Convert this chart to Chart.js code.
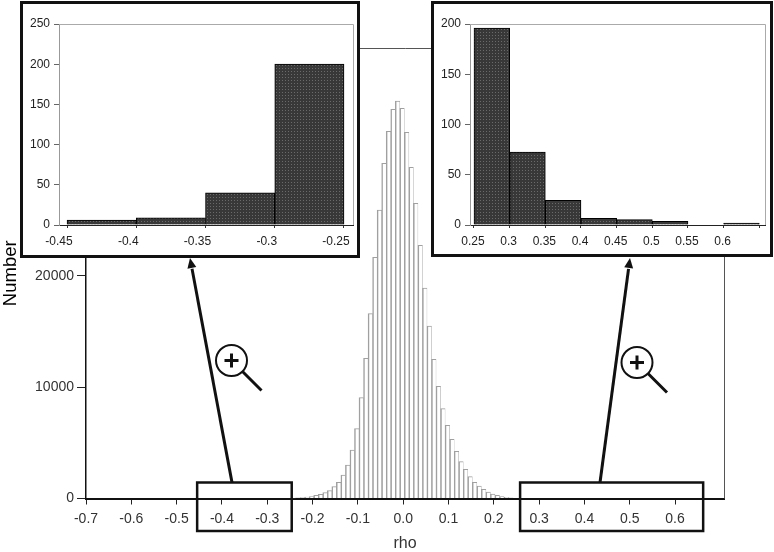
<!DOCTYPE html>
<html>
<head>
<meta charset="utf-8">
<title>rho histogram</title>
<script src="https://cdn.jsdelivr.net/npm/chart.js@4"></script>
<style>
    html, body { margin: 0; padding: 0; background: #fff; }
    #stage { position: relative; width: 774px; height: 552px; overflow: hidden; }
    #stage canvas { position: absolute; left: 0; top: 0; }
    .inset { position: absolute; box-sizing: border-box; border: 3px solid #111; background: #fff; }
    #insetLeft { left: 20px; top: 1px; width: 340px; height: 257px; }
    #insetRight { left: 431px; top: 1px; width: 342px; height: 256px; }
</style>
</head>
<body>
<div id="stage">
    <canvas id="mainChart" width="774" height="552"></canvas>
    <div class="inset" id="insetLeft"><canvas id="leftChart" width="334" height="251"></canvas></div>
    <div class="inset" id="insetRight"><canvas id="rightChart" width="336" height="250"></canvas></div>
</div>
<script>
// main histogram, 0.01 wide bins
const rhoBins = [
    -0.2425, -0.2325, -0.2225, -0.2125, -0.2025, -0.1925, -0.1825, -0.1725, -0.1625, -0.1525,
    -0.1425, -0.1325, -0.1225, -0.1125, -0.1025, -0.0925, -0.0825, -0.0725, -0.0625, -0.0525,
    -0.0425, -0.0325, -0.0225, -0.0125, -0.0025, 0.0075, 0.0175, 0.0275, 0.0375, 0.0475,
    0.0575, 0.0675, 0.0775, 0.0875, 0.0975, 0.1075, 0.1175, 0.1275, 0.1375, 0.1475,
    0.1575, 0.1675, 0.1775, 0.1875, 0.1975, 0.2075, 0.2175, 0.2275, 0.2375
];
const rhoCounts = [
    30, 50, 72, 135, 162, 288, 377, 521, 701, 1060,
    1456, 2111, 3010, 4358, 6271, 9057, 12597, 16604, 21671, 25921,
    30117, 32992, 34968, 35714, 35058, 32902, 29757, 26523, 22749, 18913,
    15499, 12507, 10081, 8068, 6577, 5319, 4241, 3306, 2624, 1959,
    1456, 1123, 827, 584, 404, 288, 162, 108, 70
];
const mainXTicks = [-0.7, -0.6, -0.5, -0.4, -0.3, -0.2, -0.1, 0, 0.1, 0.2, 0.3, 0.4, 0.5, 0.6];
const mainYTicks = [0, 10000, 20000];

// left inset (negative tail)
const leftBins = [-0.425, -0.375, -0.325, -0.275];
const leftCounts = [6, 9, 40, 200];
const leftXTicks = [-0.45, -0.4, -0.35, -0.3, -0.25];
const leftYTicks = [0, 50, 100, 150, 200, 250];

// right inset (positive tail)
const rightBins = [0.275, 0.325, 0.375, 0.425, 0.475, 0.525, 0.575, 0.625];
const rightCounts = [196, 72.6, 24.6, 6.6, 5.3, 3.7, 0, 2];
const rightXTicks = [0.25, 0.3, 0.35, 0.4, 0.45, 0.5, 0.55, 0.6, 0.65];
const rightXLabelled = [0.25, 0.3, 0.35, 0.4, 0.45, 0.5, 0.55, 0.6];
const rightYTicks = [0, 50, 100, 150, 200];

// rho ranges that the two insets blow up
const leftWindow = [-0.4547, -0.246];
const rightWindow = [0.258, 0.662];

const FONT = '"Liberation Sans", Arial, sans-serif';
Chart.defaults.font.family = FONT;
Chart.defaults.animation = false;
Chart.defaults.responsive = false;
Chart.defaults.plugins.legend.display = false;
Chart.defaults.plugins.tooltip.enabled = false;

// the dotted halftone fill of the inset bars
function halftone() {
    const c = document.createElement('canvas');
    c.width = 3;
    c.height = 3;
    const g = c.getContext('2d');
    g.fillStyle = '#383838';
    g.fillRect(0, 0, 3, 3);
    g.fillStyle = '#6a6a6a';
    g.fillRect(1, 1, 1, 1);
    return g.createPattern(c, 'repeat');
}

// thin top and right lines around a plot
const plotFrame = {
    id: 'plotFrame',
    beforeDatasetsDraw(chart, args, opts) {
        const { ctx, chartArea: a } = chart;
        const top = Math.round(a.top) + 0.5;
        const right = Math.round(a.right) + 0.5;
        ctx.save();
        ctx.strokeStyle = opts.color;
        ctx.lineWidth = 1;
        ctx.beginPath();
        ctx.moveTo(a.left, top);
        ctx.lineTo(right, top);
        ctx.lineTo(right, a.bottom);
        ctx.stroke();
        ctx.restore();
    }
};

function drawArrow(ctx, x0, y0, x1, y1) {
    const ang = Math.atan2(y1 - y0, x1 - x0);
    const back = 11;
    ctx.lineWidth = 3;
    ctx.beginPath();
    ctx.moveTo(x0, y0);
    ctx.lineTo(x1 - back * Math.cos(ang), y1 - back * Math.sin(ang));
    ctx.stroke();
    ctx.beginPath();
    ctx.moveTo(x1, y1);
    ctx.lineTo(x1 - back * Math.cos(ang - 0.42), y1 - back * Math.sin(ang - 0.42));
    ctx.lineTo(x1 - back * Math.cos(ang + 0.42), y1 - back * Math.sin(ang + 0.42));
    ctx.closePath();
    ctx.fill();
}

function drawLens(ctx, cx, cy) {
    ctx.lineWidth = 2;
    ctx.beginPath();
    ctx.arc(cx, cy, 15.5, 0, Math.PI * 2);
    ctx.stroke();
    ctx.lineWidth = 3;
    ctx.beginPath();
    ctx.moveTo(cx + 11, cy + 11);
    ctx.lineTo(cx + 30, cy + 30);
    ctx.moveTo(cx - 7, cy);
    ctx.lineTo(cx + 7, cy);
    ctx.moveTo(cx, cy - 7);
    ctx.lineTo(cx, cy + 7);
    ctx.stroke();
}

// zoom boxes on the axis, arrows up to the insets, magnifiers
const zoomMarks = {
    id: 'zoomMarks',
    afterDraw(chart) {
        const { ctx, scales } = chart;
        const boxTop = 482.5;
        const boxH = 48.5;
        ctx.save();
        ctx.strokeStyle = '#111';
        ctx.fillStyle = '#111';
        ctx.lineWidth = 2.5;
        [leftWindow, rightWindow].forEach(w => {
            const x0 = scales.x.getPixelForValue(w[0]);
            const x1 = scales.x.getPixelForValue(w[1]);
            ctx.strokeRect(x0, boxTop, x1 - x0, boxH);
        });
        drawArrow(ctx, 232, boxTop, 190, 258);
        drawArrow(ctx, 600, boxTop, 630, 258);
        drawLens(ctx, 231.5, 360.5);
        drawLens(ctx, 637, 362.5);
        ctx.restore();
    }
};

new Chart(document.getElementById('mainChart'), {
    type: 'bar',
    data: {
        labels: rhoBins,
        datasets: [{
            data: rhoCounts,
            backgroundColor: '#fff',
            borderColor: '#a0a0a0',
            borderWidth: { top: 1, left: 1.5, right: 0.5, bottom: 0 },
            barPercentage: 1,
            categoryPercentage: 1
        }]
    },
    options: {
        layout: { autoPadding: false, padding: { top: 48, right: 50 } },
        plugins: { plotFrame: { color: '#555' } },
        scales: {
            x: {
                type: 'linear',
                offset: false,
                min: -0.7,
                max: 0.708,
                afterBuildTicks: s => { s.ticks = mainXTicks.map(value => ({ value })); },
                afterFit: s => { s.height = 53.5; },
                border: { color: '#111', width: 2 },
                grid: { drawOnChartArea: false, offset: false, tickLength: 6, color: '#222' },
                ticks: {
                    autoSkip: false,
                    maxRotation: 0,
                    padding: 6,
                    color: '#333',
                    font: { size: 14 },
                    callback: v => v.toFixed(1)
                },
                title: {
                    display: true,
                    text: 'rho',
                    color: '#333',
                    padding: 0,
                    font: { size: 16, lineHeight: 1 }
                }
            },
            y: {
                min: 0,
                max: 40474,
                afterBuildTicks: s => { s.ticks = mainYTicks.map(value => ({ value })); },
                afterFit: s => { s.width = 86; },
                border: { color: '#111', width: 1.5 },
                grid: { drawOnChartArea: false, tickLength: 9, color: '#222' },
                ticks: { padding: 3, color: '#333', font: { size: 14 }, callback: v => String(v) },
                title: {
                    display: true,
                    text: 'Number',
                    color: '#000',
                    padding: { top: 1.5, bottom: 0 },
                    font: { size: 18.5, lineHeight: 1 }
                }
            }
        }
    },
    plugins: [plotFrame, zoomMarks]
});

function insetChart(id, bins, counts, cfg) {
    return new Chart(document.getElementById(id), {
        type: 'bar',
        data: {
            labels: bins,
            datasets: [{
                data: counts,
                backgroundColor: halftone(),
                borderColor: '#000',
                borderWidth: 1,
                barPercentage: 1,
                categoryPercentage: 1
            }]
        },
        options: {
            layout: { autoPadding: false, padding: { top: 20, right: cfg.padRight } },
            plugins: { plotFrame: { color: '#aaa' } },
            scales: {
                x: {
                    type: 'linear',
                    offset: false,
                    min: cfg.xMin,
                    max: cfg.xMax,
                    afterBuildTicks: s => { s.ticks = cfg.xTicks.map(value => ({ value })); },
                    afterFit: s => {
                        s.height = cfg.xHeight;
                        s.paddingLeft = 0;
                        s.paddingRight = 0;
                    },
                    border: { color: '#222', width: 1 },
                    grid: { drawOnChartArea: false, offset: false, tickLength: 3, color: '#333' },
                    ticks: {
                        autoSkip: false,
                        maxRotation: 0,
                        padding: 6,
                        labelOffset: cfg.labelOffset,
                        color: '#222',
                        font: { size: 12 },
                        callback: cfg.xLabel
                    }
                },
                y: {
                    min: 0,
                    max: cfg.yMax,
                    afterBuildTicks: s => { s.ticks = cfg.yTicks.map(value => ({ value })); },
                    afterFit: s => { s.width = 36; },
                    border: { color: '#999', width: 1 },
                    grid: { drawOnChartArea: false, tickLength: 5, color: '#666' },
                    ticks: { padding: 4, color: '#222', font: { size: 12 } }
                }
            }
        },
        plugins: [plotFrame]
    });
}

insetChart('leftChart', leftBins, leftCounts, {
    xMin: -0.4558,
    xMax: -0.2435,
    yMax: 250,
    xTicks: leftXTicks,
    yTicks: leftYTicks,
    xHeight: 30,
    padRight: 4,
    labelOffset: -8,
    xLabel: v => String(v)
});

insetChart('rightChart', rightBins, rightCounts, {
    xMin: 0.2444,
    xMax: 0.658,
    yMax: 200,
    xTicks: rightXTicks,
    yTicks: rightYTicks,
    xHeight: 29,
    padRight: 5,
    labelOffset: -1,
    xLabel: v => rightXLabelled.includes(v) ? String(v) : ''
});
</script>
</body>
</html>
